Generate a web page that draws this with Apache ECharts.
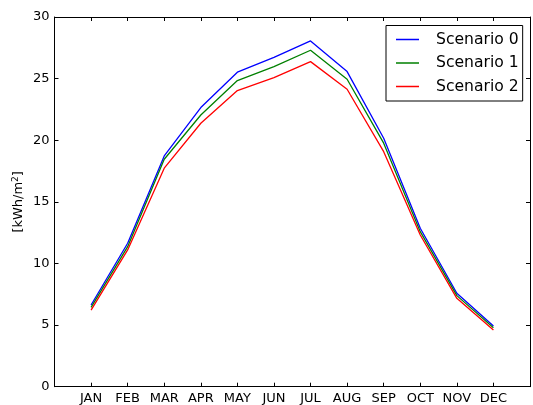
<!DOCTYPE html>
<html>
<head>
<meta charset="utf-8">
<script src="https://cdn.jsdelivr.net/npm/echarts@6/dist/echarts.min.js"></script>
<style>html,body{margin:0;padding:0;background:#fff}#c{width:533px;height:405px}</style>
</head>
<body>
<div id="c"></div>
<script>
var months = ['JAN','FEB','MAR','APR','MAY','JUN','JUL','AUG','SEP','OCT','NOV','DEC'];
var scenario0 = [6.63, 11.64, 18.73, 22.65, 25.52, 26.73, 28.06, 25.57, 20.16, 12.86, 7.58, 4.93];
var scenario1 = [6.44, 11.36, 18.46, 22.05, 24.84, 25.97, 27.30, 24.95, 19.76, 12.58, 7.39, 4.79];
var scenario2 = [6.22, 11.10, 17.73, 21.38, 24.03, 25.08, 26.38, 24.14, 19.07, 12.31, 7.17, 4.60];
var seriesNames = ['Scenario 0', 'Scenario 1', 'Scenario 2'];
var yTicks = [0, 5, 10, 15, 20, 25, 30];

var FONT = 'DejaVu Sans';
function pairs(arr){ return arr.map(function(v,i){ return [i, v]; }); }

var chart = echarts.init(document.getElementById('c'), null, {renderer:'canvas'});
var axisLine = {show:true, onZero:false, lineStyle:{color:'#000', width:1}};
var tick = {show:true, inside:true, length:4, lineStyle:{color:'#000', width:1}};
var lineIcon = 'path://M0,0L0.01,0L0,0.01Z M0,6.35L23,6.35L23,7.65L0,7.65Z M23,14L22.99,14L23,13.99Z';
chart.setOption({
  animation:false,
  backgroundColor:'#fff',
  grid:{left:54.5, top:17, width:481, bottom:18.3, containLabel:false},
  legend:{
    orient:'vertical', left:386, top:25.5,
    padding:[6, 4, 6.5, 10],
    borderColor:'#000', borderWidth:1,
    icon:lineIcon,
    itemWidth:23, itemHeight:14, itemGap:7.5,
    textStyle:{fontFamily:FONT, fontSize:15.6, color:'#000', padding:[0,0,0,12]},
    data:seriesNames
  },
  xAxis:[{
    type:'value', min:-1, max:12, interval:1, position:'bottom',
    axisLine:axisLine, axisTick:tick, splitLine:{show:false},
    axisLabel:{fontFamily:FONT, fontSize:13, color:'#000', margin:5,
      formatter:function(v){ return months[v] || ''; }}
  },{
    type:'value', min:-1, max:12, interval:1, position:'top',
    axisLine:axisLine, axisTick:tick, splitLine:{show:false}, axisLabel:{show:false}
  }],
  yAxis:[{
    type:'value', min:yTicks[0], max:yTicks[yTicks.length-1], interval:5, position:'left',
    axisLine:axisLine, axisTick:tick, splitLine:{show:false},
    axisLabel:{fontFamily:FONT, fontSize:13, color:'#000', margin:5},
    name:'[kWh/m{s|2}]', nameLocation:'middle', nameGap:28, nameRotate:90, nameMoveOverlap:false,
    nameTextStyle:{fontFamily:FONT, fontSize:13, color:'#000',
      rich:{s:{fontFamily:FONT, fontSize:9, color:'#000', verticalAlign:'top', padding:[0,0,6,0]}}}
  },{
    type:'value', min:0, max:30, interval:5, position:'right',
    axisLine:axisLine, axisTick:tick, splitLine:{show:false}, axisLabel:{show:false}
  }],
  series:[
    {name:seriesNames[0], type:'line', data:pairs(scenario0), symbol:'none', lineStyle:{color:'#0000ff', width:1.3}, itemStyle:{color:'#0000ff'}},
    {name:seriesNames[1], type:'line', data:pairs(scenario1), symbol:'none', lineStyle:{color:'#008000', width:1.3}, itemStyle:{color:'#008000'}},
    {name:seriesNames[2], type:'line', data:pairs(scenario2), symbol:'none', lineStyle:{color:'#ff0000', width:1.3}, itemStyle:{color:'#ff0000'}}
  ]
});
</script>
</body>
</html>
